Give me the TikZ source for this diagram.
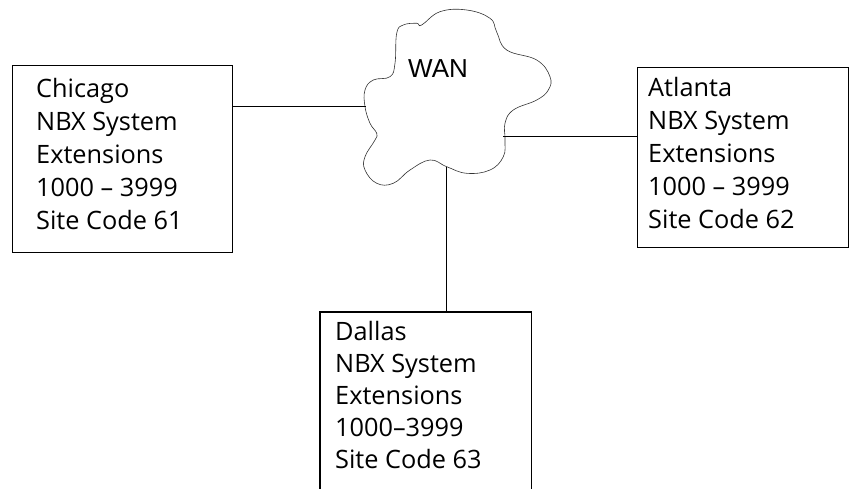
\documentclass[tikz,border=0pt]{standalone}
\usepackage{fontspec}
\setmainfont{Open Sans}
\newfontfamily\wanfont{Liberation Sans}
\begin{document}
\begin{tikzpicture}[x=1pt,y=-1pt,
  sitebox/.style={draw=black,line width=1.3pt,minimum width=#1,anchor=north west,inner sep=0pt},
  boxtext/.style={anchor=base west,inner sep=0pt,font=\fontsize{25.3}{33}\selectfont},
  link/.style={draw=black,line width=1pt},
  cloudline/.style={draw=black!80,line width=0.6pt}]
\useasboundingbox (0,0) rectangle (850,489);
% cloud
\draw[cloudline] plot[smooth cycle,tension=0.7] coordinates{
 (421.7,25) (440,11.7) (466.7,10) (490,18.3) (496.7,32) (506.7,50) (536.7,60)
 (550,76.7) (548.3,90) (536.7,100) (513.3,110) (505,123.3) (505,140) (503.3,156.7)
 (490,170) (466.7,173.3) (446.7,166.7) (430,160) (410,170) (393.3,183.3) (376.7,183.3)
 (365,170) (365,156.7) (375,140) (376.7,133.3) (370,123.3) (365,106.7) (365,90)
 (373.3,80) (390,76.7) (395,63.3) (396.7,33.3) (403.3,25) (416.7,23.3)};
\node[anchor=base west,inner sep=0pt,font=\wanfont\fontsize{26}{30}\selectfont] (wan) at (408,78) {WAN};
\coordinate (cL) at (366,107);
\coordinate (cR) at (503,137);
\coordinate (cB) at (446,167);
% boxes
\node[sitebox=220pt,minimum height=187pt] (chi) at (12,65) {};
\node[sitebox=211pt,minimum height=180pt] (atl) at (637,67) {};
\node[inner sep=0pt,minimum width=211pt,minimum height=177pt,anchor=north west] (dal) at (320,312) {};
\draw[line width=1.3pt] (dal.south west) -- (dal.north west) -- (dal.north east) -- (dal.south east);
% texts
\node[boxtext] (chit) at (36,98) {\begin{tabular}[t]{@{}l@{}}Chicago\\NBX System\\Extensions\\1000 – 3999\\Site Code 61\end{tabular}};
\node[boxtext] (atlt) at (648,97) {\begin{tabular}[t]{@{}l@{}}Atlanta\\NBX System\\Extensions\\1000 – 3999\\Site Code 62\end{tabular}};
\node[boxtext,font=\fontsize{25.3}{32}\selectfont] (dalt) at (335,340) {\begin{tabular}[t]{@{}l@{}}Dallas\\NBX System\\Extensions\\1000–3999\\Site Code 63\end{tabular}};
% links
\draw[link] (cL -| chi.east) -- (cL);
\draw[link] (cR) -- (cR -| atl.west);
\draw[link] (cB) -- (cB |- dal.north);
\end{tikzpicture}
\end{document}
